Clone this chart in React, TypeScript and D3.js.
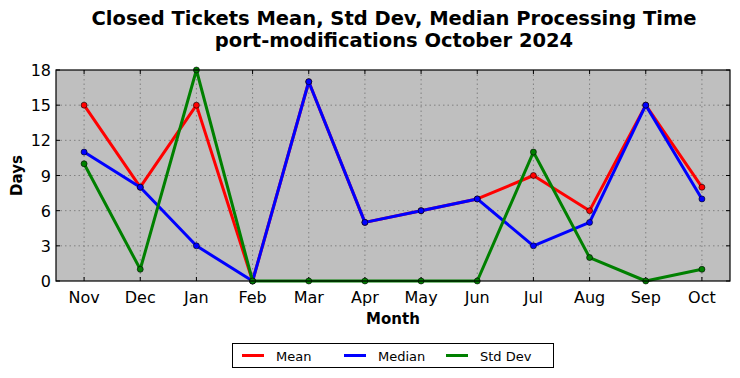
import React from "react";
import * as d3 from "d3";

const months = ["Nov", "Dec", "Jan", "Feb", "Mar", "Apr", "May", "Jun", "Jul", "Aug", "Sep", "Oct"];
const meanValues = [15, 8, 15, 0, 17, 5, 6, 7, 9, 6, 15, 8];
const medianValues = [11, 8, 3, 0, 17, 5, 6, 7, 3, 5, 15, 7];
const stdValues = [10, 1, 18, 0, 0, 0, 0, 0, 11, 2, 0, 1];
const yTicks = [0, 3, 6, 9, 12, 15, 18];

const series = [
  { name: "Mean", color: "#ff0000", values: meanValues },
  { name: "Median", color: "#0000ff", values: medianValues },
  { name: "Std Dev", color: "#008000", values: stdValues },
];

const W = 740, H = 378;
const L = 56, R = 730, T = 70, B = 281;
const font = "'DejaVu Sans', sans-serif";

export default function App() {
  const x = d3.scaleLinear().domain([-0.5, 11.5]).range([L, R]);
  const y = d3.scaleLinear().domain([0, 18]).range([B, T]);
  const line = d3.line<number>().x((_, i) => x(i)).y((d) => y(d));

  return (
    <svg width={W} height={H} style={{ position: "absolute", left: 0, top: 0 }} fontFamily={font}>
      <rect width={W} height={H} fill="#fff" />
      <text x={394} y={25} textAnchor="middle" fontSize={19.5} fontWeight="bold">Closed Tickets Mean, Std Dev, Median Processing Time</text>
      <text x={394} y={47} textAnchor="middle" fontSize={19.5} fontWeight="bold">port-modifications October 2024</text>
      <rect x={L} y={T} width={R - L} height={B - T} fill="#bfbfbf" />
      {months.map((m, i) => (
        <g key={m}>
          <line x1={x(i)} x2={x(i)} y1={T} y2={B} stroke="#808080" strokeDasharray="1.5,3" strokeWidth={1} />
          <line x1={x(i)} x2={x(i)} y1={B} y2={B - 4} stroke="#000" />
          <line x1={x(i)} x2={x(i)} y1={T} y2={T + 4} stroke="#000" />
          <text x={x(i)} y={B + 22} textAnchor="middle" fontSize={16}>{m}</text>
        </g>
      ))}
      {yTicks.map((t) => (
        <g key={t}>
          {t > 0 && t < 18 && (
            <line x1={L} x2={R} y1={y(t)} y2={y(t)} stroke="#808080" strokeDasharray="1.5,3" strokeWidth={1} />
          )}
          <line x1={L} x2={L + 4} y1={y(t)} y2={y(t)} stroke="#000" />
          <line x1={R} x2={R - 4} y1={y(t)} y2={y(t)} stroke="#000" />
          <text x={L - 5} y={y(t) + 6} textAnchor="end" fontSize={16}>{t}</text>
        </g>
      ))}
      {series.map((s) => (
        <g key={s.name}>
          <path d={line(s.values) || ""} fill="none" stroke={s.color} strokeWidth={3} strokeLinejoin="round" />
          {s.values.map((v, i) => (
            <circle key={i} cx={x(i)} cy={y(v)} r={3} fill={s.color} stroke="#000" strokeWidth={0.6} />
          ))}
        </g>
      ))}
      <rect x={L} y={T} width={R - L} height={B - T} fill="none" stroke="#000" strokeWidth={1.2} />
      <text x={393} y={324} textAnchor="middle" fontSize={15} fontWeight="bold">Month</text>
      <text transform={`translate(21.5,${(T + B) / 2}) rotate(-90)`} textAnchor="middle" fontSize={15} fontWeight="bold">Days</text>
      <rect x={232.5} y={343.5} width={321} height={24} fill="#fff" stroke="#000" strokeWidth={1} />
      {series.map((s, i) => {
        const lx = 242 + i * 102;
        return (
          <g key={s.name}>
            <line x1={lx} x2={lx + 22} y1={355.5} y2={355.5} stroke={s.color} strokeWidth={3} />
            <text x={lx + 34} y={360.5} fontSize={13}>{s.name}</text>
          </g>
        );
      })}
    </svg>
  );
}
